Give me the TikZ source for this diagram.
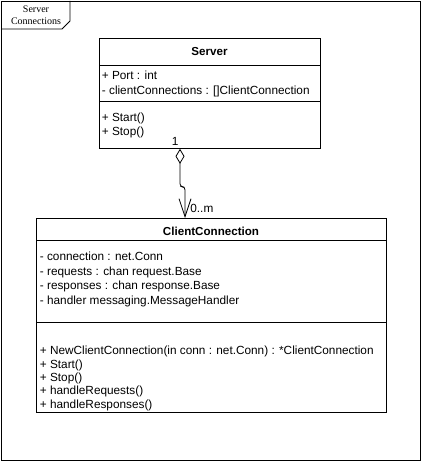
\documentclass[tikz,border=0pt]{standalone}
\usepackage{fontspec}
\setmainfont{Liberation Sans}
\newfontfamily\framefont{Liberation Serif}
\usetikzlibrary{arrows.meta}

\begin{document}
\begin{tikzpicture}[x=1pt,y=-1pt,line width=0.8pt,
	member/.style={anchor=west,inner sep=0pt,font=\fontsize{11.8}{13}\selectfont,text height=8.5pt,text depth=2.5pt},
	classname/.style={inner sep=0pt,font=\fontsize{11.6}{13}\selectfont\bfseries},
	classbox/.style={draw,anchor=north west,inner sep=0pt}]
	\useasboundingbox (0,0) rectangle (422,462);
	
	% frame with its tab
	\draw (1,1) rectangle (420,460);
	\draw (70,1) -- (70,21) -- (62,29) -- (1,29);
	\node[font=\framefont\fontsize{10}{11.5}\selectfont,align=center,inner sep=0pt] (frametitle) at (36,15) {Server\\Connections};
	
	% Server class
	\node[classbox,minimum width=221pt,minimum height=110pt] (server) at (99,38) {};
	\node[classname] (servername) at (209.5,52) {Server};
	\draw (server.west |- 0,65) -- (server.east |- 0,65);
	\draw (server.west |- 0,101) -- (server.east |- 0,101);
	\foreach \txt [count=\i] in {{+ Port : int},{- clientConnections : []ClientConnection}}
		\node[member] (serverattr\i) at (101.5,{62.5+14.5*\i}) {\txt};
	\foreach \txt [count=\i] in {{+ Start()},{+ Stop()}}
		\node[member] (servermeth\i) at (101.5,{105+14*\i}) {\txt};
	
	% ClientConnection class
	\node[classbox,minimum width=350pt,minimum height=194pt] (client) at (36,218) {};
	\node[classname] (clientname) at (211,231) {ClientConnection};
	\draw (client.west |- 0,240) -- (client.east |- 0,240);
	\draw (client.west |- 0,322) -- (client.east |- 0,322);
	\foreach \txt [count=\i] in {{- connection : net.Conn},{- requests : chan request.Base},{- responses : chan response.Base},{- handler messaging.MessageHandler}}
		\node[member] (clientattr\i) at (39.5,{243.5+14.4*\i}) {\txt};
	\foreach \txt [count=\i] in {{+ NewClientConnection(in conn : net.Conn) : *ClientConnection},{+ Start()},{+ Stop()},{+ handleRequests()},{+ handleResponses()}}
		\node[member] (clientmeth\i) at (39.5,{338.5+13.3*\i}) {\txt};
	
	% aggregation
	\coordinate (aggfrom) at (180,148);
	\coordinate (aggto) at (185,218);
	\draw[{Diamond[open,length=15pt,width=9pt]}-{Straight Barb[length=18pt,width=12pt]},rounded corners=3pt]
		(aggfrom |- server.south) -- ++(0,38) -| (aggto |- client.north);
	\node[member] (multfrom) at (171.5,143) {1};
	\node[member] (multto) at (190,209) {0..m};
\end{tikzpicture}
\end{document}
